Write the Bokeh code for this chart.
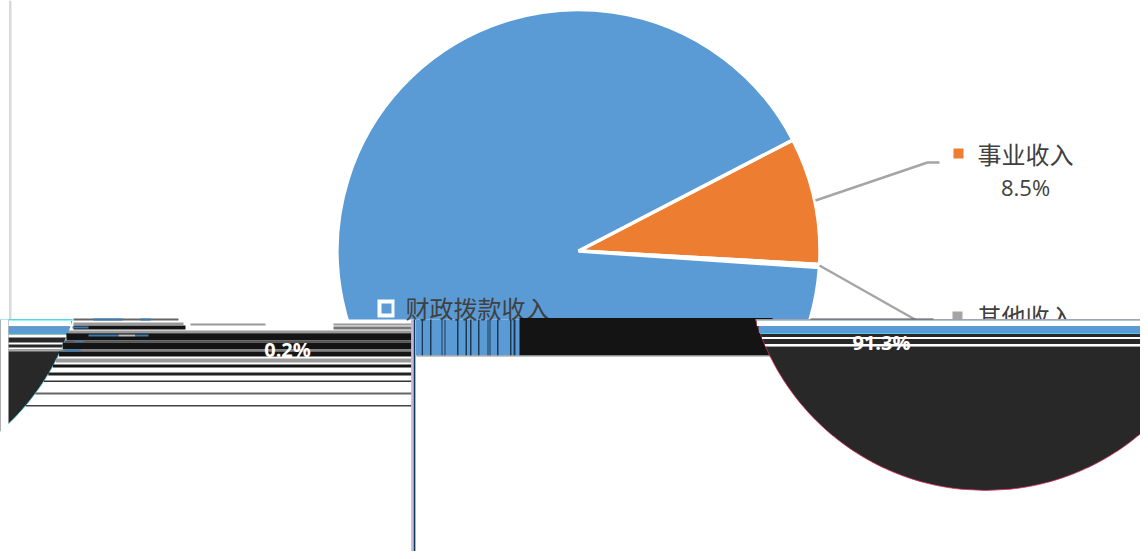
import numpy as np
from bokeh.plotting import figure
from bokeh.models import Range1d
from bokeh.core.properties import value
from bokeh.embed import file_html
from bokeh.resources import INLINE

# ---- chart values ----
categories = ["财政拨款收入", "事业收入", "其他收入"]
shares = [91.3, 8.5, 0.2]
labels = ["91.3%", "8.5%", "0.2%"]
colors = ["#5B9BD5", "#ED7D31", "#A5A5A5"]

W, H = 1140, 551
PAGE_H = 559
def Y(y):
    return PAGE_H - np.asarray(y, dtype=float)

p = figure(width=W, height=H, output_backend="svg", toolbar_location=None,
           x_range=Range1d(0, W), y_range=Range1d(PAGE_H - H, PAGE_H),
           min_border=0, outline_line_color=None)
p.xaxis.visible = False
p.yaxis.visible = False
p.grid.visible = False
p.background_fill_color = "white"
p.border_fill_color = "white"

CJK = value("Noto Sans CJK SC")
LAT = value("Open Sans")
INK = "#404040"
DARK = "#141414"
PIE_DARK = "#282828"

def box(x0, x1, y0, y1, color):
    p.quad(left=x0, right=x1, top=Y(y0), bottom=Y(y1), fill_color=color, line_color=None)

# ---- frame of the chart ----
box(8.5, 11, 0, 320, "#D9D9D9")

# ---- pie ----
CX, CY, R = 578, 250.5, 241.5
ROT = 27.4                    # degrees at which the orange slice starts, clockwise
order = [1, 2, 0]
ang = ROT
starts, ends, cols = [], [], []
for i in order:
    sweep = shares[i] / sum(shares) * 360
    starts.append(np.radians(ang - sweep))
    ends.append(np.radians(ang))
    cols.append(colors[i])
    ang -= sweep
p.wedge(x=[CX] * 3, y=[Y(CY)] * 3, radius=R, start_angle=starts, end_angle=ends,
        fill_color=cols, line_color="white", line_width=3.5)

# ---- leader lines, legend marks, labels above the tear ----
p.line([815, 927, 939], Y([200, 162, 162]), line_color="#A5A5A5", line_width=2.4)
p.line([819, 918], Y([265, 321]), line_color="#A5A5A5", line_width=2.4)
box(953, 963, 148, 158, colors[1])
box(952, 962, 311, 321, colors[2])
p.text([1025], Y([153]), text=[categories[1]], text_font=CJK, text_font_size="24px",
       text_color=INK, text_align="center", text_baseline="middle")
p.text([1025], Y([186]), text=[labels[1]], text_font=LAT, text_font_size="22px",
       text_color=INK, text_align="center", text_baseline="middle")
p.text([1025], Y([315]), text=[categories[2]], text_font=CJK, text_font_size="24px",
       text_color=INK, text_align="center", text_baseline="middle")

# ---- everything below the tear: white base ----
box(0, 1148, 319, 559, "white")

# blue strip that carries the stretched legend text
box(415, 520, 319, 355, colors[0])
p.text([477], Y([307]), text=[categories[0]], text_font=CJK, text_font_size="24px",
       text_color=INK, text_align="center", text_baseline="middle")
box(377, 394, 299, 317, "white")
box(381, 391, 303, 313, colors[0])
stems = [(421.2, 422.5), (429.5, 431), (441, 442), (444, 445), (456.5, 458), (465, 466.5), (469.5, 471),
         (477.5, 479), (487, 488), (489, 490), (496.5, 498), (509.5, 511), (513, 515)]
for a, b in stems:
    box(a, b, 319, 355, "#1E3A52")
box(519, 772, 317.5, 355, DARK)
box(416, 772, 355, 356, "#8C8C8C")

# dark displaced circle, and its wrapped copy at the left edge
DCX, DCY, DR = 985, 250, 240
WRAP = 1143
def half(y):
    return np.sqrt(DR ** 2 - (np.asarray(y, dtype=float) - DCY) ** 2)
yy = np.linspace(319, DCY + DR, 140)
seg_x = np.concatenate([DCX - half(yy), (DCX + half(yy))[::-1]])
seg_y = np.concatenate([yy, yy[::-1]])
p.patch(seg_x, Y(seg_y), fill_color=PIE_DARK, line_color="#E0305A", line_width=0.8)
p.patch(seg_x - WRAP, Y(seg_y), fill_color=PIE_DARK, line_color="#50E0F0", line_width=0.8)

# bands inside the dark circle, right side
right_bands = [(319, 320, "#7FFFFF"), (320, 325.5, "white"), (325.5, 332.5, colors[0]),
               (332.5, 333.5, "#50C8F0"), (336.5, 338.5, "white"), (343.5, 345.5, "white"),
               (345.5, 346.5, "#A0A0A0")]
for y0, y1, c in right_bands:
    m = (y0 + y1) / 2
    box(DCX - half(m), 1148, y0, y1, c)
box(810, 933, 318, 319, "#555555")

# bands inside the wrapped circle, left side
left_bands = [(319.5, 320.5, "#7FFFFF"), (320.5, 326, "white"), (326, 332.7, colors[0]),
              (332.7, 334, "#50D0E0"), (334, 337, "white"), (342, 344, "white"),
              (347, 349, "white"), (349, 351, "#A8A8A8")]
for y0, y1, c in left_bands:
    m = (y0 + y1) / 2
    box(8, DCX + half(m) - WRAP, y0, y1, c)

# stripes between the wrapped circle and the vertical tear
rows = [(330, 332.7, "#9A9A9A"), (332.7, 340, DARK), (340, 342, "#555555"), (342, 349, DARK),
        (349, 351, "#808080"), (351, 356, DARK), (358, 362, "#9A9A9A"), (364, 367, DARK),
        (372, 375, "#222222"), (380, 381.5, "#333333"), (392, 394, "#666666"), (404.5, 406, "#444444")]
for y0, y1, c in rows:
    m = (y0 + y1) / 2
    box(DCX + half(m) - WRAP, 411, y0, y1, c)
bits = [(73, 178, 318, 320, "#666666"), (73, 183, 322, 324.5, "#999999"), (73, 185, 325, 329, DARK),
        (190, 265, 323, 325, "#999999"), (333, 411, 323, 325, "#999999"), (333, 411, 326, 329, "#777777"),
        (93, 122, 318, 320, "#3C7AB0"), (140, 150, 318, 320, "#3C7AB0"), (72, 88, 326, 328, "#3C7AB0"),
        (88, 118, 334, 336, "#3C7AB0"), (118, 135, 334, 336, "#BBBBBB"), (135, 148, 334, 336, "#3C7AB0"),
        (74, 83, 340, 341.5, "#3C7AB0"), (64, 80, 349, 351, "#3C7AB0")]
for a, b, y0, y1, c in bits:
    box(a, b, y0, y1, c)

# the vertical tear
box(410.7, 412.3, 319, 557, "#E8A0D0")
box(412.3, 413.5, 319, 557, "#30D0E0")
box(413.5, 414.5, 319, 557, "#0E3A5A")
box(414.5, 415.5, 319, 557, "#40E0F0")

# white page margin at the left of the tear
box(0, 8, 319, 559, "white")

# labels caught in the tear
p.text([287], Y([349]), text=[labels[2]], text_font=LAT, text_font_size="20px", text_font_style="bold",
       text_color="white", text_align="center", text_baseline="middle")
p.text([881], Y([342]), text=[labels[0]], text_font=LAT, text_font_size="20px", text_font_style="bold",
       text_color="white", text_align="center", text_baseline="middle")

open("out.html", "w").write(file_html(p, INLINE))
